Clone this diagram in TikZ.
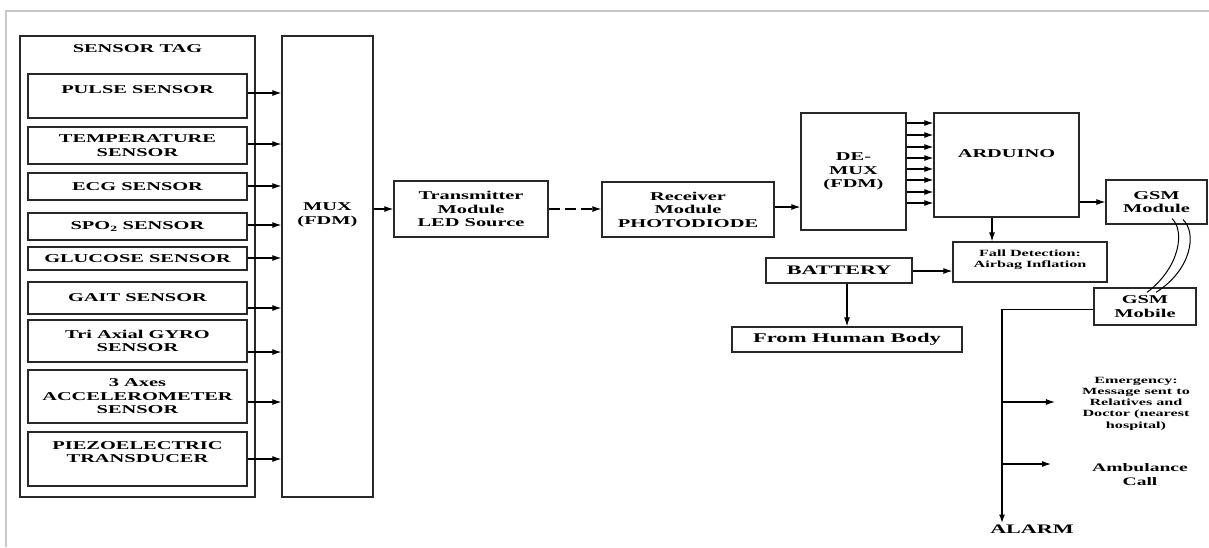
\documentclass[tikz,border=0pt]{standalone}
\usepackage{fontspec}
\setmainfont{Liberation Serif}[FakeStretch=1.7]
\usetikzlibrary{arrows.meta}
\definecolor{framegray}{RGB}{200,200,200}
\definecolor{boxgray}{RGB}{40,40,40}

\begin{document}
\begin{tikzpicture}[x=1pt,y=-1pt,>={Latex[length=9pt,width=6pt]},
blockbox/.style={draw=boxgray,rectangle,line width=1.3pt,inner sep=0pt,align=center,font=\bfseries\fontsize{12}{13.5}\selectfont},
sensorbox/.style={blockbox,minimum width=219pt},
plaintext/.style={inner sep=1pt,align=center,font=\bfseries\fontsize{12}{13.5}\selectfont},
smalltext/.style={inner sep=1pt,align=center,font=\bfseries\fontsize{9.5}{11.3}\selectfont},
wire/.style={line width=1.1pt,->}]

\useasboundingbox (0,0) rectangle (1209,547);
\draw[framegray,line width=2pt] (6,547) -- (6,11) -- (1209,11);

\draw (137.5,266.5) node[blockbox,minimum width=235pt,minimum height=461pt] (tag) {};
\draw (137.5,49) node[plaintext] (tagtitle) {SENSOR TAG};
\draw (327.5,266.5) node[blockbox,minimum width=91pt,minimum height=461pt] (mux) {};
\draw (327.5,215) node[plaintext] (muxtext) {MUX\\(FDM)};

\draw (137.5,96) node[sensorbox,minimum height=44pt] (pulse) {PULSE SENSOR\\\mbox{}};
\draw (137.5,145.5) node[sensorbox,minimum height=37pt] (temp) {TEMPERATURE\\SENSOR};
\draw (137.5,186.5) node[sensorbox,minimum height=27pt] (ecg) {ECG SENSOR};
\draw (137.5,226.5) node[sensorbox,minimum height=27pt] (spo) {SPO\textsubscript{2} SENSOR};
\draw (137.5,258.5) node[sensorbox,minimum height=23pt] (gluc) {GLUCOSE SENSOR};
\draw (137.5,298) node[sensorbox,minimum height=32pt] (gait) {GAIT SENSOR};
\draw (137.5,341) node[sensorbox,minimum height=42pt] (gyro) {Tri Axial GYRO\\SENSOR};
\draw (137.5,396.5) node[sensorbox,minimum height=53pt] (accel) {3 Axes\\ACCELEROMETER\\SENSOR};
\draw (137.5,459) node[sensorbox,minimum height=54pt] (piezo) {PIEZOELECTRIC\\TRANSDUCER\\\mbox{}};

\foreach \s/\y in {pulse/93,temp/144,ecg/186,spo/225,gluc/258,gait/308,gyro/352,accel/402,piezo/459}
  \draw[wire] (\s.east |- 0,\y) -- (mux.west |- 0,\y);

\draw (471,209) node[blockbox,minimum width=154pt,minimum height=56pt] (tx) {Transmitter\\Module\\LED Source};
\draw (688,209.5) node[blockbox,minimum width=172pt,minimum height=55pt] (rx) {Receiver\\Module\\PHOTODIODE};
\draw (853.5,171.5) node[blockbox,minimum width=105pt,minimum height=117pt] (demux) {DE-\\MUX\\(FDM)};
\draw (1006.5,165) node[blockbox,minimum width=145pt,minimum height=104pt] (arduino) {};
\draw (1006.5,154) node[plaintext] (arduinotext) {ARDUINO};
\draw (1156.5,202) node[blockbox,minimum width=101pt,minimum height=44pt] (gsmmod) {GSM\\Module};
\draw (1030,262) node[blockbox,minimum width=154pt,minimum height=40pt,font=\bfseries\fontsize{9.5}{11.3}\selectfont] (fall) {Fall Detection:\\Airbag Inflation\\[-4pt]\mbox{}};
\draw (839,270.5) node[blockbox,minimum width=146pt,minimum height=25pt,font=\bfseries\fontsize{13}{15}\selectfont] (battery) {BATTERY};
\draw (847,339.5) node[blockbox,minimum width=230pt,minimum height=25pt,font=\bfseries\fontsize{13.3}{15}\selectfont] (body) {From Human Body};
\draw (1145,306.5) node[blockbox,minimum width=102pt,minimum height=37pt] (gsmmob) {GSM\\Mobile};

\draw (1136,403.5) node[smalltext] (emerg) {Emergency:\\Message sent to\\Relatives and\\Doctor (nearest\\hospital)};
\draw (1140,475) node[plaintext,font=\bfseries\fontsize{11.5}{14}\selectfont] (amb) {Ambulance\\Call};
\draw (1032,529) node[plaintext,font=\bfseries\fontsize{13}{15}\selectfont] (alarm) {ALARM};

\draw[wire] (mux.east |- tx) -- (tx.west);
\draw[wire,dash pattern=on 11pt off 5pt] (tx.east) -- (tx.east -| rx.west);
\draw[wire] (rx.east |- 0,207) -- (demux.west |- 0,207);
\foreach \y in {123,135,147,158,169,180,192,203}
  \draw[wire] (demux.east |- 0,\y) -- (arduino.west |- 0,\y);
\draw[wire] (gsmmod.west -| arduino.east) -- (gsmmod.west);
\draw[wire] ([xshift=-14.5pt]arduino.south) -- ([xshift=-14.5pt]arduino.south |- fall.north);
\draw[wire] (battery.east |- 0,271) -- (fall.west |- 0,271);
\draw[wire] (body.north |- battery.south) -- (body.north);

% wireless link
\draw[line width=1pt] ([xshift=15.5pt,yshift=6pt]gsmmod.south) .. controls ++(13,12) and ++(33,-25) .. ([xshift=2pt,yshift=-5pt]gsmmob.north);
\draw[line width=1pt] ([xshift=26.5pt,yshift=5pt]gsmmod.south) .. controls ++(14,13) and ++(36,-23) .. ([xshift=11pt,yshift=-5pt]gsmmob.north);

\coordinate (trunk) at (1002,309);
\draw[line width=1pt] (gsmmob.west |- trunk) -- (trunk);
\draw[line width=2.2pt,->] (trunk) -- (trunk |- alarm.north);
\draw[wire] (trunk |- 0,402) -- ([xshift=-26pt]emerg.west |- 0,402);
\draw[wire] (trunk |- 0,464) -- ([xshift=-40pt]amb.west |- 0,464);

\end{tikzpicture}
\end{document}
